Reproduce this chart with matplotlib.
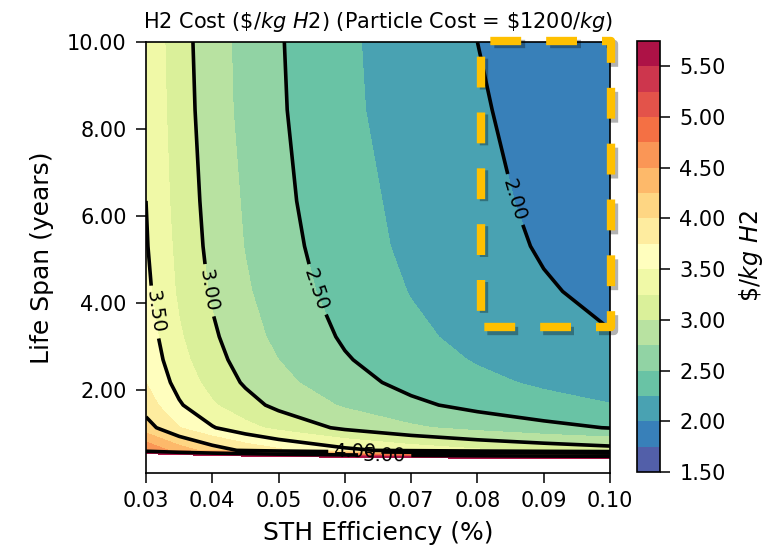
import numpy as np
import matplotlib
matplotlib.use("Agg")
import matplotlib.pyplot as plt
import matplotlib.patches as mpatches
import matplotlib.patheffects as pe
from matplotlib.ticker import FormatStrFormatter

# grid: STH efficiency (columns) x particle life span in years (rows)
sth_eff = [0.030, 0.035, 0.040, 0.045, 0.050, 0.060, 0.070, 0.080, 0.090, 0.100]
life_span = [0.10, 0.62, 1.14, 1.66, 2.18, 2.70, 3.23, 4.27, 5.31, 6.35, 8.44, 10.00]

# H2 cost in $/kg H2, one row per life span
h2_cost = [
    [11.86, 11.52, 11.27, 11.08, 10.93, 10.70, 10.54, 10.42, 10.32, 10.25],
    [4.73, 4.39, 4.14, 3.95, 3.80, 3.57, 3.41, 3.29, 3.20, 3.12],
    [4.11, 3.76, 3.52, 3.33, 3.18, 2.95, 2.79, 2.67, 2.57, 2.49],
    [3.88, 3.53, 3.28, 3.09, 2.94, 2.72, 2.55, 2.43, 2.34, 2.26],
    [3.75, 3.41, 3.16, 2.97, 2.82, 2.59, 2.43, 2.31, 2.21, 2.14],
    [3.68, 3.33, 3.09, 2.90, 2.75, 2.52, 2.36, 2.23, 2.14, 2.06],
    [3.63, 3.28, 3.04, 2.85, 2.69, 2.47, 2.30, 2.18, 2.09, 2.01],
    [3.56, 3.21, 2.97, 2.78, 2.63, 2.40, 2.24, 2.12, 2.02, 1.95],
    [3.52, 3.18, 2.93, 2.74, 2.59, 2.36, 2.20, 2.08, 1.98, 1.91],
    [3.50, 3.15, 2.91, 2.72, 2.56, 2.34, 2.18, 2.05, 1.96, 1.88],
    [3.46, 3.12, 2.87, 2.68, 2.53, 2.30, 2.14, 2.02, 1.93, 1.85],
    [3.45, 3.10, 2.86, 2.67, 2.52, 2.29, 2.13, 2.00, 1.91, 1.83],
]

fill_levels = np.arange(1.5, 5.8, 0.25)
line_levels = [2.0, 2.5, 3.0, 3.5, 4.0, 5.0]
cbar_ticks = [1.5, 2.0, 2.5, 3.0, 3.5, 4.0, 4.5, 5.0, 5.5]

# where the inline contour labels go (eff, years)
label_spots = [(0.0862, 6.4), (0.0555, 4.3), (0.0398, 4.3), (0.0315, 3.8),
               (0.0615, 0.58), (0.066, 0.49)]

# highlighted low-cost corner (eff, years)
box_x = (0.0805, 0.1001)
box_y = (3.45, 10.03)

fig = plt.figure(figsize=(7.68, 5.52), dpi=100)
ax = fig.add_axes([146 / 768, 1 - 473 / 552, 464 / 768, 431 / 552])
cax = fig.add_axes([637 / 768, 1 - 472 / 552, 23 / 768, 431 / 552])

cf = ax.contourf(sth_eff, life_span, h2_cost, levels=fill_levels, cmap="Spectral_r")
cs = ax.contour(sth_eff, life_span, h2_cost, levels=line_levels,
                colors="k", linewidths=2.6)
ax.clabel(cs, fmt="%.2f", fontsize=14, manual=label_spots, inline=True)

ax.set_xlim(0.03, 0.10)
ax.set_ylim(0.1, 10.0)
ax.set_xticks([0.03, 0.04, 0.05, 0.06, 0.07, 0.08, 0.09, 0.10])
ax.set_yticks([2.0, 4.0, 6.0, 8.0, 10.0])
ax.xaxis.set_major_formatter(FormatStrFormatter("%.2f"))
ax.yaxis.set_major_formatter(FormatStrFormatter("%.2f"))
ax.tick_params(labelsize=15, length=7, width=1.1)
ax.tick_params(axis="y", pad=7)
ax.tick_params(axis="x", pad=6)
for sp in ax.spines.values():
    sp.set_linewidth(1.2)

ax.set_xlabel("STH Efficiency (%)", fontsize=18, labelpad=7)
ax.set_ylabel("Life Span (years)", fontsize=18, labelpad=9)
ax.set_title(r"H2 Cost (\$/$kg\ H2$) (Particle Cost = \$1200/$kg$)",
             fontsize=15, pad=10)

# dashed gold frame with a soft drop shadow
box = mpatches.Rectangle((box_x[0], box_y[0]), box_x[1] - box_x[0],
                         box_y[1] - box_y[0], fill=False, edgecolor="#FFC000",
                         linewidth=6, linestyle=(6.3, (3.7, 3.0)),
                         joinstyle="round", clip_on=False, zorder=10)
box.set_path_effects([pe.SimpleLineShadow(offset=(2.5, -2.5), shadow_color="k",
                                          alpha=0.3), pe.Normal()])
ax.add_patch(box)

cb = fig.colorbar(cf, cax=cax, ticks=cbar_ticks, format="%.2f")
cb.ax.tick_params(labelsize=15, length=7, width=1.1, pad=7)
cb.outline.set_linewidth(1.2)
cb.set_label(r"\$/$kg\ H2$", fontsize=17, labelpad=8)

fig.savefig("out.png", dpi=100)
